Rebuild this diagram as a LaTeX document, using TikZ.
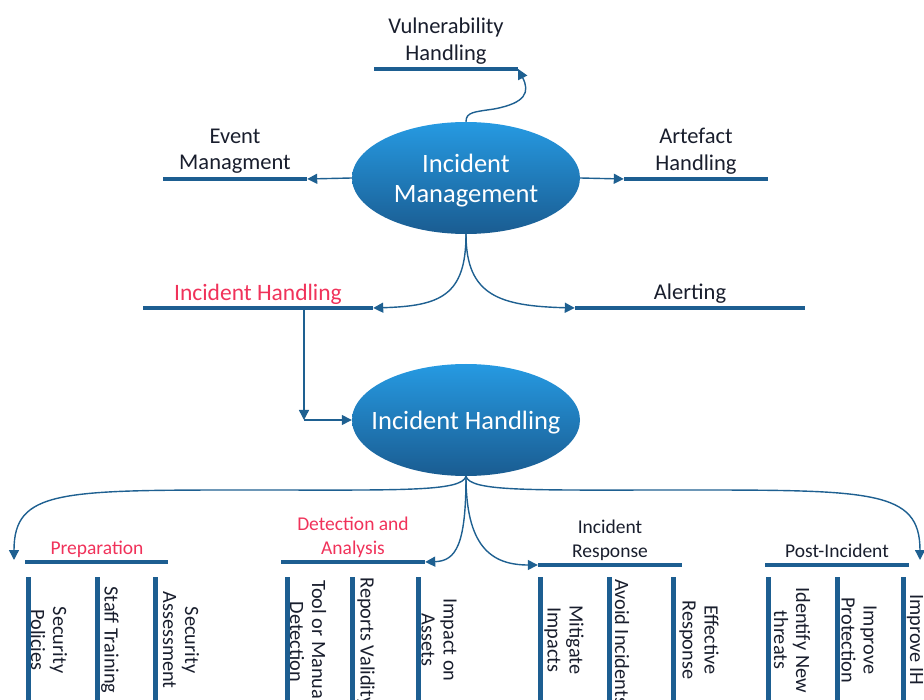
\documentclass[tikz,border=0pt]{standalone}
\usepackage{fontspec}
\setmainfont{Carlito}
\usetikzlibrary{shapes.geometric,arrows.meta}
\definecolor{barc}{RGB}{29,94,145}
\definecolor{linec}{RGB}{30,96,145}
\definecolor{redc}{RGB}{240,50,90}
\definecolor{textc}{RGB}{25,30,45}
\definecolor{elltop}{RGB}{38,154,226}
\definecolor{ellbot}{RGB}{26,92,145}
\tikzset{
  hbar/.style={rectangle, fill=barc, inner sep=0pt, minimum height=4.5pt},
  vbar/.style={rectangle, fill=barc, inner sep=0pt, minimum width=5pt, minimum height=140pt},
  topic/.style={ellipse, top color=elltop, bottom color=ellbot, inner sep=0pt,
    minimum width=228pt, minimum height=112pt},
  topictext/.style={text=white, align=center, inner sep=0pt, yshift=-3pt,
    font=\fontsize{26.5}{30}\selectfont},
  lbl/.style={text=textc, align=center, inner sep=0pt, font=\fontsize{22.5}{26.5}\selectfont},
  redlbl/.style={lbl, text=redc, font=\fontsize{23.5}{27}\selectfont},
  sublbl/.style={text=textc, align=center, inner sep=0pt, font=\fontsize{19.5}{24}\selectfont},
  subred/.style={sublbl, text=redc},
  item/.style={text=textc, align=center, inner sep=0pt, rotate=-90, font=\fontsize{20.3}{22}\selectfont},
  conn/.style={draw=linec, line width=1.4pt, -{Triangle[width=10pt,length=10pt]}},
}
\begin{document}
\begin{tikzpicture}[x=1pt,y=-1pt]
\useasboundingbox (0,0) rectangle (924,700);
\clip (0,0) rectangle (924,700);

% main topics
\node[topic, label={[topictext]center:Incident\\Management}] (im) at (466,178) {};
\node[topic, label={[topictext]center:Incident Handling}] (ih) at (466,420) {};

% upper headings
\node[hbar, minimum width=144pt] (vh) at (446,69) {};
\node[lbl] (vht) at (446,41) {Vulnerability\\Handling};
\node[hbar, minimum width=144pt] (em) at (235,179) {};
\node[lbl] (emt) at (235,151) {Event\\Managment};
\node[hbar, minimum width=144pt] (ah) at (696,179) {};
\node[lbl] (aht) at (696,151) {Artefact\\Handling};
\node[hbar, minimum width=230pt] (ihb) at (258,308) {};
\node[redlbl] (ihbt) at (258,294) {Incident Handling};
\node[hbar, minimum width=230pt] (al) at (690,308) {};
\node[lbl] (alt) at (690,294) {Alerting};

% phase headings
\node[hbar, minimum width=143pt] (prep) at (96.5,562) {};
\node[subred] (prept) at (97,549) {Preparation};
\node[hbar, minimum width=144pt] (det) at (353,562) {};
\node[subred] (dett) at (353,537) {Detection and\\Analysis};
\node[hbar, minimum width=144pt] (resp) at (610,565) {};
\node[sublbl] (respt) at (610,540) {Incident\\Response};
\node[hbar, minimum width=144pt] (post) at (837,565) {};
\node[sublbl] (postt) at (837,551) {Post-Incident};

% phase items
\foreach \x/\n in {28/p1,97/p2,155/p3,287/d1,352/d2,418/d3,540/r1,609/r2,673/r3,768/q1,837/q2,903/q3}
  \node[vbar] (\n) at (\x,647) {};
\node[item] (p1t) at (49,640) {Security\\Policies};
\node[item] (p2t) at (110,640) {Staff Training};
\node[item] (p3t) at (181,640) {Security\\Assessment};
\node[item] (d1t) at (308,642) {Tool or Manual\\Detection};
\node[item] (d2t) at (366,642) {Reports Validity};
\node[item] (d3t) at (439,640) {Impact on\\Assets};
\node[item] (r1t) at (564,640) {Mitigate\\Impacts};
\node[item] (r2t) at (622,642) {Avoid Incidents};
\node[item] (r3t) at (699,640) {Effective\\Response};
\node[item] (q1t) at (792,640) {Identify New\\threats};
\node[item] (q2t) at (859,640) {Improve\\Protection};
\node[item] (q3t) at (915,640) {Improve IH};

% connectors from Incident Management
\draw[conn] (im.north) .. controls (466,112) and (474,112) .. (494,109)
  .. controls (526,103) and (530,92) .. (vh.east);
\draw[conn] (im.west) -- (em.east);
\draw[conn] (im.east) -- (ah.west);
\draw[conn] (im.south) .. controls (466,296) and (440,306) .. (ihb.east);
\draw[conn] (im.south) .. controls (466,296) and (500,306) .. (al.west);

% Incident Handling heading to the topic
\coordinate (elb) at (304,420);
\draw[conn] (ihb.south -| elb) -- (elb);
\draw[conn] (elb) -- (ih.west);

% connectors from Incident Handling to the phases
\coordinate (farl) at (14,560);
\coordinate (farr) at (920,560);
\draw[conn] (ih.south) .. controls (462,492) and (400,490) .. (250,490)
  .. controls (60,490) and (14,490) .. (farl);
\draw[conn] (ih.south) .. controls (470,492) and (532,490) .. (682,490)
  .. controls (872,490) and (920,490) .. (farr);
\draw[conn] (ih.south) .. controls (466,545) and (456,561) .. (det.east);
\draw[conn] (ih.south) .. controls (466,545) and (490,565) .. (resp.west);
\end{tikzpicture}
\end{document}
